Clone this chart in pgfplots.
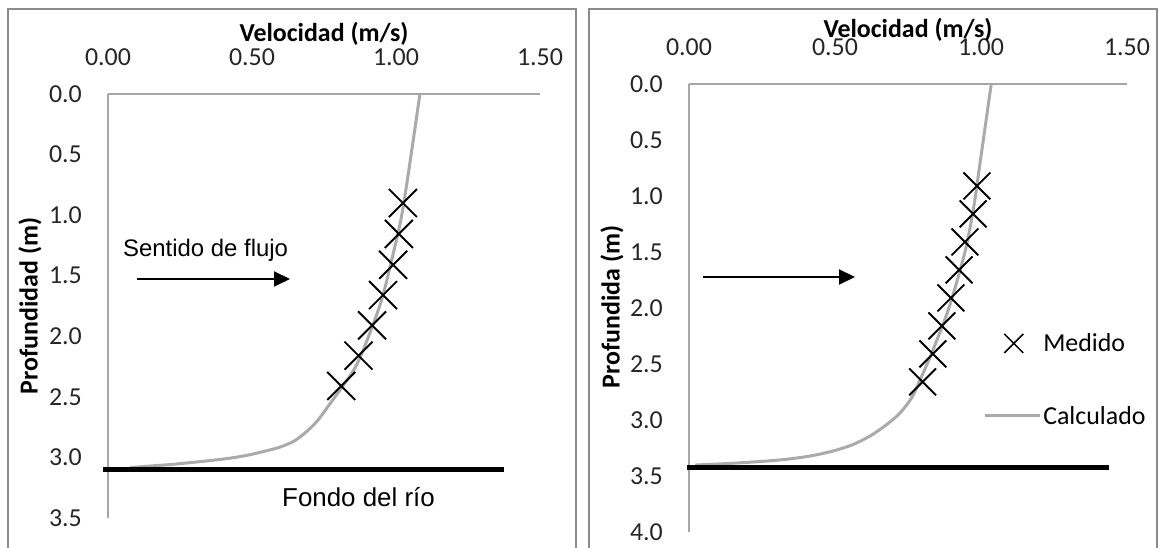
\documentclass[border=0pt]{standalone}
\usepackage{fontspec}
\setmainfont{Carlito}
\newfontfamily\arialfont{Liberation Sans}
\usepackage{pgfplots}
\pgfplotsset{compat=1.18}
\usetikzlibrary{arrows.meta}

\definecolor{framegray}{HTML}{8C8C8C}
\definecolor{axisgray}{HTML}{A6A6A6}
\definecolor{curvegray}{HTML}{AAAAAA}

\pgfplotsset{
  myaxis/.style={
    scale only axis,
    y dir=reverse,
    xmin=0, xmax=1.5,
    xtick={0,0.5,1,1.5},
    xticklabel pos=upper,
    axis line style={draw=none},
    major tick length=0pt,
    clip=false,
    tick label style={font=\fontsize{26}{30}\selectfont, text=black!85},
    xticklabel style={inner sep=0pt, yshift=28bp, /pgf/number format/.cd, fixed, fixed zerofill, precision=2, assume math mode=true},
    yticklabel style={inner sep=0pt, xshift=-26bp, /pgf/number format/.cd, fixed, fixed zerofill, precision=1, assume math mode=true},
  }
}

\begin{document}
\begin{tikzpicture}
\useasboundingbox (0,0) rectangle (1163bp,548bp);

% frames
\draw[framegray, line width=2bp] (8bp,-5bp) -- (8bp,539bp) -- (576bp,539bp) -- (576bp,-5bp);
\draw[framegray, line width=2bp] (589bp,-5bp) -- (589bp,539bp) -- (1157bp,539bp) -- (1157bp,-5bp);

% ---------- left panel ----------
\begin{axis}[myaxis, at={(324bp,242bp)}, anchor=center, width=432bp, height=424bp,
  ymin=0, ymax=3.5, ytick={0,0.5,1,1.5,2,2.5,3,3.5}]
\draw[axisgray, line width=1.3bp] (axis cs:0,0) -- (axis cs:1.5,0);
\draw[axisgray, line width=1.3bp] (axis cs:0,0) -- (axis cs:0,3.5);
\addplot[curvegray, line width=3bp, smooth] coordinates {
 (1.083,0) (1.055,0.46) (1.02,1.0) (0.985,1.37) (0.95,1.7) (0.905,2.0) (0.86,2.25)
 (0.8125,2.42) (0.771,2.556) (0.729,2.692) (0.6875,2.791) (0.646,2.865) (0.597,2.915)
 (0.545,2.948) (0.486,2.981) (0.424,3.006) (0.354,3.026) (0.285,3.043) (0.215,3.059)
 (0.146,3.071) (0.076,3.084)};
\addplot[black, line width=5bp] coordinates {(-0.017,3.10) (1.375,3.10)};
\addplot[only marks, mark=x, mark size=19.8bp, black, line width=1.9bp] coordinates {
 (1.024,0.90) (1.01,1.155) (0.99,1.41) (0.955,1.66) (0.917,1.91) (0.87,2.16) (0.81,2.41)};
\end{axis}

% ---------- right panel ----------
\begin{axis}[myaxis, at={(908bp,240bp)}, anchor=center, width=438bp, height=448bp,
  ymin=0, ymax=4, ytick={0,0.5,1,1.5,2,2.5,3,3.5,4},
  legend style={draw=none, fill=none, at={(axis cs:1.007,2.64)}, anchor=west,
    font=\fontsize{26}{30}\selectfont, row sep=49bp, inner sep=0pt, column sep=0pt,
    cells={anchor=west}, nodes={inner sep=2bp}}]
\draw[axisgray, line width=1.3bp] (axis cs:0,0) -- (axis cs:1.5,0);
\draw[axisgray, line width=1.3bp] (axis cs:0,0) -- (axis cs:0,4);
\addplot[curvegray, line width=3bp, smooth, forget plot] coordinates {
 (1.035,0) (0.997,0.70) (0.975,1.1) (0.945,1.5) (0.89,2.0) (0.83,2.41) (0.791,2.643)
 (0.764,2.795) (0.7226,2.9375) (0.6747,3.045) (0.620,3.143) (0.558,3.223) (0.493,3.277)
 (0.4247,3.317) (0.356,3.344) (0.2877,3.362) (0.219,3.375) (0.151,3.386) (0.082,3.395)
 (0.021,3.402)};
\addplot[black, line width=5bp, forget plot] coordinates {(-0.007,3.42) (1.44,3.42)};
\addplot[only marks, mark=x, mark size=19bp, black, line width=1.9bp, forget plot] coordinates {
 (0.986,0.91) (0.973,1.16) (0.945,1.41) (0.925,1.66) (0.897,1.91) (0.866,2.16) (0.835,2.41) (0.80,2.66)};
\addlegendimage{black, legend image code/.code={\path (0bp,0bp) (55bp,0bp); \draw[black, line width=1.5bp, mark=x, mark size=13.4bp, only marks] plot coordinates {(29bp,0bp)};}}
\addlegendentry{Medido}
\addlegendimage{curvegray, legend image code/.code={\draw[curvegray, line width=3bp] (0bp,0bp) -- (55bp,0bp);}}
\addlegendentry{Calculado}
\end{axis}

% titles
\node[font=\bfseries\fontsize{26}{30}\selectfont] at (324bp,514bp) {Velocidad (m/s)};
\node[font=\bfseries\fontsize{26}{30}\selectfont] at (908bp,518bp) {Velocidad (m/s)};
\node[rotate=90, font=\bfseries\fontsize{26}{30}\selectfont] at (30bp,242bp) {Profundidad (m)};
\node[rotate=90, font=\bfseries\fontsize{26}{30}\selectfont] at (612bp,241bp) {Profundida (m)};

% annotations
\node[font=\arialfont\fontsize{24}{28}\selectfont, anchor=west, inner sep=0pt] at (123bp,298bp) {Sentido de flujo};
\draw[line width=2bp, -{Triangle[length=16bp,width=15bp]}] (137bp,269bp) -- (290bp,269bp);
\draw[line width=2bp, -{Triangle[length=16bp,width=15bp]}] (703bp,271bp) -- (855bp,271bp);
\node[font=\arialfont\fontsize{26}{30}\selectfont, anchor=west, inner sep=0pt] at (282bp,51bp) {Fondo del río};
\end{tikzpicture}
\end{document}
